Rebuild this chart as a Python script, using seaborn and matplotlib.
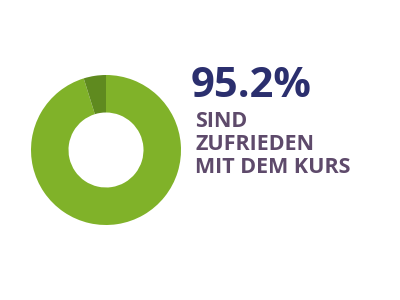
import matplotlib
matplotlib.use("Agg")
import matplotlib.pyplot as plt
import seaborn as sns

labels = ["Zufrieden", "Nicht zufrieden"]
values = [95.2, 4.8]
colors = ["#80b229", "#5f8a1f"]
headline = "95.2%"
caption = "SIND\nZUFRIEDEN\nMIT DEM KURS"

sns.set_theme(style="white")
plt.rcParams["font.family"] = ["Open Sans", "DejaVu Sans"]

fig = plt.figure(figsize=(4, 3), dpi=100)
ax = fig.add_axes([0, 0, 1, 1])
ax.set_xlim(0, 400)
ax.set_ylim(0, 300)
ax.set_aspect("equal")
ax.axis("off")

ax.pie(values, colors=sns.color_palette(colors), startangle=90, counterclock=False,
       center=(106, 150), radius=75,
       wedgeprops=dict(width=37.5, linewidth=0))
ax.set_xlim(0, 400)
ax.set_ylim(0, 300)

ax.text(191, 203, headline, color="#2b2f6e", fontsize=30, fontweight="bold",
        ha="left", va="baseline")
ax.text(195, 189, caption, color="#5e4a6b", fontsize=15.5, fontweight="bold",
        ha="left", va="top", linespacing=1.12)

fig.savefig("out.png", dpi=100)
